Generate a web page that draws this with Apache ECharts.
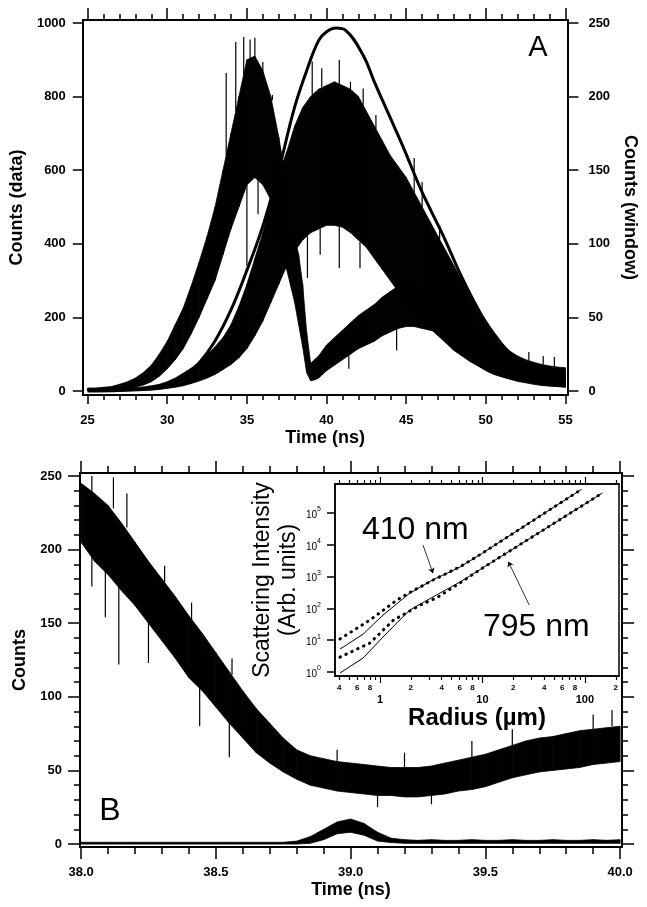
<!DOCTYPE html>
<html><head><meta charset="utf-8">
<script src="https://cdn.jsdelivr.net/npm/echarts@6/dist/echarts.min.js"></script>
<style>html,body{margin:0;padding:0;background:#fff}#c{width:647px;height:907px}</style>
</head><body><div id="c"></div>
<script>
// ---------------- Panel A data ----------------
const tA = [25,25.5,26,26.5,27,27.5,28,28.5,29,29.5,30,30.5,31,31.5,32,32.5,33,33.5,34,34.5,35,35.5,36,36.5,37,37.5,38,
  38.25,38.5,38.75,39,39.25,39.5,
  40,40.5,41,41.5,42,42.5,43,43.5,44,44.5,45,45.5,46,46.5,47,47.5,48,48.5,49,49.5,50,50.5,51,51.5,52,52.5,53,53.5,54,54.5,55];
// band "a": early peak (~35 ns), dip at 39 ns, second hump (~45 ns)  [left axis]
const aLo = [0,0,0,1,3,6,10,16,25,40,60,85,115,155,200,250,300,370,440,500,560,580,560,520,430,330,240,
  180,120,50,28,30,35,
  55,70,85,100,115,125,135,150,160,170,175,175,170,165,160,150,140,130,115,100,85,70,58,48,40,32,25,20,15,12,10];
const aHi = [8,8,10,12,18,25,35,50,70,100,135,180,225,285,350,420,500,600,700,800,900,910,870,800,690,560,420,
  370,290,160,75,85,95,
  125,145,165,185,205,220,235,255,270,285,290,285,275,265,250,235,220,205,185,165,145,125,110,95,85,75,68,62,58,55,52];
// band "b": peak near 41 ns [left axis]
const bLo = [0,0,0,0,0,0,0,1,2,4,7,10,14,20,27,35,45,58,72,90,115,150,190,240,290,340,380,
  395,410,420,430,435,440,
  450,450,445,430,410,390,360,330,300,270,240,215,190,170,150,130,110,95,80,68,55,45,38,32,26,22,18,15,13,12,11];
const bHi = [5,5,6,6,7,8,9,11,14,18,25,35,48,62,78,98,120,145,180,230,290,360,430,520,590,650,720,
  745,770,785,800,810,820,
  830,840,830,820,800,760,720,680,640,610,580,540,500,460,420,380,340,300,255,215,180,150,125,108,95,85,78,72,68,65,63];
// prominent noise spikes: time, band edge, spike tip [left axis]
const spA_t    = [33.7,34.3,34.8,35.2,35.5,36.0,36.6,35.0,35.7,39.1,39.7,40.8,41.5,42.3,43.1,38.8,39.6,40.8,42.1,45.5,46.0,47.1,41.4,44.4,52.7,53.6,54.3];
const spA_base = [640,760,860,905,910,870,790,560,575,805,825,835,820,775,712,420,442,447,405,540,500,412,97,170,83,72,67];
const spA_tip  = [864,948,962,955,960,894,804,340,480,895,877,899,840,822,750,307,370,334,334,633,568,451,60,110,106,95,92];
// smooth window curve [right axis]
const tW = [25,27,28,29,30,31,32,33,34,35,36,37,38,38.8,39.5,40,40.6,41.2,42.3,43,43.9,44.8,46,47.3,48.5,49.7,50.7,51.5,52.5,53.5,54.5,55];
const wV = [0,0.3,1,2,4,9,19,34,55,82,112,150,193,219,238,244,246.5,245,228,210,188,166,135,106,77,52,36,26,18,13,10,9];

// ---------------- Panel B data ----------------
const tB = [38.00,38.05,38.10,38.15,38.20,38.25,38.30,38.35,38.40,38.45,38.50,38.55,38.60,38.65,38.70,38.75,38.80,38.85,38.90,38.95,
  39.00,39.05,39.10,39.15,39.20,39.25,39.30,39.35,39.40,39.45,39.50,39.55,39.60,39.65,39.70,39.75,39.80,39.85,39.90,39.95,40.00];
const mLo = [205,192,183,172,162,150,138,126,113,104,93,82,72,62,55,49,44,40,38,36,35,34,33,33,32,32,33,34,36,37,39,42,45,47,49,50,51,52,54,55,56];
const mHi = [245,238,230,218,205,192,180,168,155,143,130,117,104,92,82,72,64,60,58,56,55,54,53,52,52,52,53,55,57,59,61,64,67,70,72,73,75,77,78,79,80];
const nLo = [0,0,0,0,0,0,0,0,0,0,0,0,0,0,0,0,0,0.5,3,7,8,6,2,1,0.5,0.5,0.5,0.5,0.5,0.5,0.5,0.5,0.5,0.5,0.5,0.5,0.5,0.5,0.5,0.5,0.5];
const nHi = [1.2,1.2,1.2,1.2,1.2,1.2,1.2,1.2,1.2,1.2,1.2,1.2,1.2,1.2,1.2,1.2,2,5,10,15,17,14,8,4,3,2.5,3,2.5,2.5,3,2.5,2.5,3,2.5,2.5,3,2.5,2.5,3,2.5,3];
const spB_t    = [38.04,38.12,38.17,38.31,38.41,38.56,38.04,38.09,38.14,38.25,38.44,38.55,38.95,39.2,39.45,39.6,39.9,39.97,39.1,39.3];
const spB_base = [238,228,215,178,150,115,205,188,175,150,108,85,56,52,59,67,78,80,33,33];
const spB_tip  = [250,249,238,189,164,126,175,154,122,123,80,59,64,62,70,78,88,91,25,27];

// ---------------- Inset data ----------------
const x410 = [0.407,0.684,1.07,1.95,3.24,6.03,10,93];
const y410 = [5.25,15.5,61.7,302,776,1995,5495,562000];
const x410d = [0.407,0.794,1.46,1.95,3.24,6.03,10,93];
const y410d = [11,42.7,182,316,759,2042,5495,562000];
const x795 = [0.407,0.684,1.17,1.95,3.55,6.03,10,148];
const y795 = [0.93,2.75,17,89,263,676,1862,426600];
const x795d = [0.407,0.794,1.35,2.45,3.55,6.03,10,148];
const y795d = [2.95,8.1,42.7,126,214,631,1862,426600];
const arrow410 = [[2.63,9800],[3.29,1290]];
const arrow795 = [[28.6,128],[17.9,2950]];

// ---------------- ticks / labels ----------------
const A_XMAJ = [25,30,35,40,45,50,55];
const A_YL = [0,200,400,600,800,1000];
const A_YR = [0,50,100,150,200,250];
const B_XMAJ = [38,38.5,39,39.5,40];
const B_Y = [0,50,100,150,200,250];
const INS_XMAJ = [1,10,100];
const INS_XMIN = [0.4,0.5,0.6,0.7,0.8,0.9,2,3,4,5,6,7,8,9,20,30,40,50,60,70,80,90,200];
const INS_XLAB = [0.4,0.6,0.8,2,4,6,8,20,40,60,80,200];
const INS_Y = [1,10,100,1000,10000,100000];
function steps(a,b,s){const r=[];const n=Math.round((b-a)/s);for(let i=0;i<=n;i++)r.push(+(a+i*s).toFixed(4));return r;}
const A_XMIN = steps(25,55,1);
const B_XMIN = steps(38,40,0.1);
const B_YMIN = steps(0,250,10);

const F = '"Liberation Sans", Arial, Helvetica, sans-serif';
const zip = (xs, ys) => xs.map((x,i)=>[x, ys[i]]);

function ax(o){
  const a = {
    type: o.type || 'value', gridIndex: o.g, min: o.min, max: o.max, position: o.pos,
    axisLine: {show: !!o.line, onZero: false, lineStyle: {color:'#000', width: o.lw || 2}},
    axisTick: {show: true, inside: false, length: o.len, customValues: o.ticks, lineStyle:{color:'#000', width: o.tw || 1.5}},
    axisLabel: o.labels ? {show: true, customValues: o.labels, margin: o.margin, formatter: o.fmt,
      color:'#000', fontSize: o.fs || 13, fontWeight: o.fw || 'bold', fontFamily: F, rich: o.rich} : {show:false},
    splitLine: {show:false}, minorTick:{show:false}, minorSplitLine:{show:false}
  };
  if (o.type === 'log') a.logBase = 10;
  if (o.name) {
    a.name = o.name; a.nameLocation = 'middle'; a.nameGap = o.gap;
    if (o.rot !== undefined) a.nameRotate = o.rot;
    a.nameTextStyle = {color:'#000', fontSize: o.nfs || 18, fontWeight: o.nfw || 'bold', fontFamily: F, lineHeight: o.nlh};
  }
  return a;
}
const num = v => String(v);

// noisy trace drawn as its envelope band (lo..hi) through the axes' scales
function band(name, xi, yi, t, lo, hi){
  const data = [];
  for (let i = 0; i < t.length - 1; i++) data.push([t[i], lo[i], hi[i], t[i+1], lo[i+1], hi[i+1]]);
  return {type:'custom', name, xAxisIndex:xi, yAxisIndex:yi, silent:true, clip:true, data,
    encode:{x:[0,3], y:[1,2,4,5]},
    renderItem:(params, api)=>{
      const p1 = api.coord([api.value(0), api.value(2)]);
      const p2 = api.coord([api.value(3), api.value(5)]);
      const p3 = api.coord([api.value(3), api.value(4)]);
      const p4 = api.coord([api.value(0), api.value(1)]);
      return {type:'polygon', shape:{points:[p1,p2,p3,p4]}, style:{fill:'#000', stroke:'#000', lineWidth:0.8}};
    }};
}
// isolated noise spikes as thin vertical strokes
function spikes(name, xi, yi, t, base, tip){
  return {type:'custom', name, xAxisIndex:xi, yAxisIndex:yi, silent:true, clip:true,
    data: t.map((x,i)=>[x, base[i], tip[i]]), encode:{x:0, y:[1,2]},
    renderItem:(params, api)=>{
      const a = api.coord([api.value(0), api.value(1)]);
      const b = api.coord([api.value(0), api.value(2)]);
      return {type:'line', shape:{x1:a[0], y1:a[1], x2:b[0], y2:b[1]}, style:{stroke:'#000', lineWidth:1.2}};
    }};
}

const chart = echarts.init(document.getElementById('c'), null, {renderer:'canvas'});
const xA = {min:24.7, max:55.12}, xB = {min:37.996, max:40.007}, xI = {min:0.364, max:215};
const yA = {min:-11, max:1008}, yAR = {min:-2.75, max:252}, yB = {min:-2, max:252}, yI = {min:0.75, max:820000};

const option = {
  animation: false,
  backgroundColor: '#fff',
  grid: [
    {left:80, top:20, width:499, height:375},
    {left:80, top:473, width:542, height:374},
    {left:335, top:484, width:284, height:192, show:true, backgroundColor:'#fff', borderColor:'#000', borderWidth:1.5}
  ],
  xAxis: [
    ax({g:0, ...xA, pos:'bottom', line:true, len:9, ticks:A_XMAJ, labels:A_XMAJ, margin:19, fmt:num, name:'Time (ns)', gap:34}),
    ax({g:0, ...xA, pos:'bottom', len:5, ticks:A_XMIN}),
    ax({g:0, ...xA, pos:'top', line:true, len:12, ticks:A_XMAJ}),
    ax({g:0, ...xA, pos:'top', len:6, ticks:A_XMIN}),
    ax({g:1, ...xB, pos:'bottom', line:true, len:12, ticks:B_XMAJ, labels:B_XMAJ, margin:19, fmt:v=>v.toFixed(1), name:'Time (ns)', gap:34}),
    ax({g:1, ...xB, pos:'bottom', len:7, ticks:B_XMIN}),
    ax({g:1, ...xB, pos:'top', line:true, len:12, ticks:B_XMAJ}),
    ax({g:1, ...xB, pos:'top', len:7, ticks:B_XMIN}),
    ax({g:2, type:'log', ...xI, pos:'bottom', line:true, lw:1.5, len:4, tw:1.2, ticks:INS_XMIN, labels:INS_XLAB, margin:8, fs:8,
        fmt:v=>{const p=Math.pow(10,Math.floor(Math.log10(v)+1e-9));return String(Math.round(v/p));}}),
    ax({g:2, type:'log', ...xI, pos:'bottom', len:7, tw:1.2, ticks:INS_XMAJ, labels:INS_XMAJ, margin:18, fs:11, fmt:num,
        name:'Radius (µm)', gap:25, nfs:24}),
    ax({g:2, type:'log', ...xI, pos:'top', line:true, lw:1.5, len:4, tw:1.2, ticks:INS_XMIN}),
    ax({g:2, type:'log', ...xI, pos:'top', len:7, tw:1.2, ticks:INS_XMAJ})
  ],
  yAxis: [
    ax({g:0, ...yA, pos:'left', line:true, len:10, ticks:A_YL, labels:A_YL, margin:17, fmt:num, name:'Counts (data)', gap:51, rot:90}),
    ax({g:0, ...yAR, pos:'right', line:true, len:11, ticks:A_YR, labels:A_YR, margin:21, fmt:num, name:'Counts (window)', gap:52, rot:-90}),
    ax({g:1, ...yB, pos:'left', line:true, len:12, ticks:B_Y, labels:B_Y, margin:18, fmt:num, name:'Counts', gap:51, rot:90}),
    ax({g:1, ...yB, pos:'left', len:6, ticks:B_YMIN}),
    ax({g:1, ...yB, pos:'right', line:true, len:12, ticks:B_Y}),
    ax({g:1, ...yB, pos:'right', len:6, ticks:B_YMIN}),
    ax({g:2, type:'log', ...yI, pos:'left', line:true, lw:1.5, len:8, tw:1.5, ticks:INS_Y, labels:INS_Y, margin:14, fs:10, fw:'normal',
        fmt:v=>'{b|10}{s|'+Math.round(Math.log10(v))+'}',
        rich:{b:{fontSize:10, fontFamily:F, color:'#000', lineHeight:14, verticalAlign:'bottom'}, s:{fontSize:7, fontFamily:F, color:'#000', verticalAlign:'top', lineHeight:8}},
        name:'Scattering Intensity\n(Arb. units)', gap:33, rot:90, nfs:23, nfw:'normal', nlh:26})
  ],
  series: [
    band('a', 0, 0, tA, aLo, aHi),
    band('b', 0, 0, tA, bLo, bHi),
    spikes('a/b spikes', 0, 0, spA_t, spA_base, spA_tip),
    {type:'line', name:'window', xAxisIndex:0, yAxisIndex:1, data:zip(tW,wV), symbol:'none', smooth:0.4, silent:true, z:3,
      lineStyle:{color:'#000', width:3}},
    band('m', 4, 2, tB, mLo, mHi),
    spikes('m spikes', 4, 2, spB_t, spB_base, spB_tip),
    band('n', 4, 2, tB, nLo, nHi),
    {type:'line', name:'410 nm', xAxisIndex:8, yAxisIndex:6, data:zip(x410,y410), symbol:'none', silent:true, z:5,
      lineStyle:{color:'#000', width:1},
      markLine:{silent:true, symbol:['none','arrow'], symbolSize:5, label:{show:false},
        lineStyle:{color:'#000', width:0.8, type:'solid'},
        data:[[{coord:arrow410[0]},{coord:arrow410[1]}],[{coord:arrow795[0]},{coord:arrow795[1]}]]}},
    {type:'line', name:'410 nm fit', xAxisIndex:8, yAxisIndex:6, data:zip(x410d,y410d), symbol:'none', silent:true, z:5,
      lineStyle:{color:'#000', width:3, type:[0.5,6], cap:'round'}},
    {type:'line', name:'795 nm', xAxisIndex:8, yAxisIndex:6, data:zip(x795,y795), symbol:'none', silent:true, z:5,
      lineStyle:{color:'#000', width:1}},
    {type:'line', name:'795 nm fit', xAxisIndex:8, yAxisIndex:6, data:zip(x795d,y795d), symbol:'none', silent:true, z:5,
      lineStyle:{color:'#000', width:3, type:[0.5,6], cap:'round'}}
  ],
  graphic: [
    {type:'text', x:538, y:48, style:{text:'A', font:'29px '+F, fill:'#000', align:'center', verticalAlign:'middle'}},
    {type:'text', x:110, y:811, style:{text:'B', font:'32px '+F, fill:'#000', align:'center', verticalAlign:'middle'}},
    {type:'text', x:362, y:530, z:10, style:{text:'410 nm', font:'32px '+F, fill:'#000', align:'left', verticalAlign:'middle'}},
    {type:'text', x:483, y:627, z:10, style:{text:'795 nm', font:'32px '+F, fill:'#000', align:'left', verticalAlign:'middle'}}
  ]
};
chart.setOption(option);
</script>
</body></html>
